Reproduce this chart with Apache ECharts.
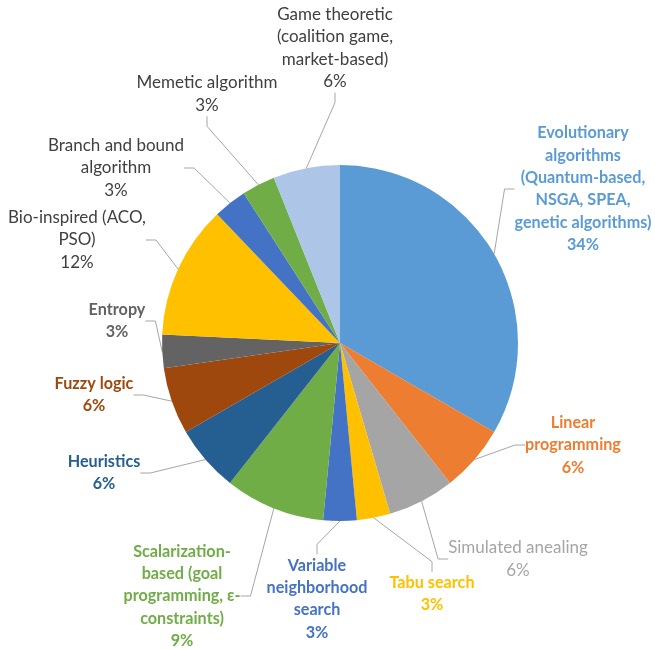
<!DOCTYPE html>
<html><head><meta charset="utf-8">
<script src="https://cdn.jsdelivr.net/npm/echarts@6/dist/echarts.min.js"></script>
<style>html,body{margin:0;padding:0;background:#fff}#c{width:655px;height:649px}</style>
</head><body><div id="c"></div>
<script>
// Categories (clockwise from 12 o'clock), with the line breaks used in the labels
const categories = [
  "Evolutionary\nalgorithms\n(Quantum-based,\nNSGA, SPEA,\ngenetic algorithms)",
  "Linear\nprogramming",
  "Simulated anealing",
  "Tabu search",
  "Variable\nneighborhood\nsearch",
  "Scalarization-\nbased (goal\nprogramming, ε-\nconstraints)",
  "Heuristics",
  "Fuzzy logic",
  "Entropy",
  "Bio-inspired (ACO,\nPSO)",
  "Branch and bound\nalgorithm",
  "Memetic algorithm",
  "Game theoretic\n(coalition game,\nmarket-based)"
];
// Number of works per category (percentages shown are derived from these)
const counts = [11, 2, 2, 1, 1, 3, 2, 2, 1, 4, 1, 1, 2];

const sliceColors = ["#5B9BD5","#ED7D31","#A5A5A5","#FFC000","#4472C4","#70AD47","#255E91","#9E480E","#636363","#FFC000","#4472C4","#70AD47","#ADC5E7"];
const labelColors = ["#5B9BD5","#ED7D31","#A5A5A5","#FFC000","#4472C4","#70AD47","#255E91","#9E480E","#636363","#404040","#404040","#404040","#404040"];
const labelBold   = [true,true,false,true,true,true,true,true,true,false,false,false,false];
// label block centres (px)
const labelCenters = [[583,189],[573,445],[518,559],[432,594],[317,599],[182,596],[104,473],[94,395],[117,321],[77,240],[116,168],[207,94],[335,48]];

const data = categories.map((name, i) => ({
  name: name,
  value: counts[i],
  itemStyle: { color: sliceColors[i] },
  label: {
    color: labelColors[i],
    fontWeight: labelBold[i] ? 'bold' : 'normal',
    fontSize: labelBold[i] ? 16.2 : 17
  }
}));

const chart = echarts.init(document.getElementById('c'), null, { renderer: 'canvas' });
chart.setOption({
  animation: false,
  backgroundColor: '#ffffff',
  series: [{
    type: 'pie',
    center: [340, 343],
    radius: 178,
    startAngle: 90,
    clockwise: true,
    percentPrecision: 0,
    data: data,
    itemStyle: { borderWidth: 0 },
    label: {
      show: true,
      position: 'outside',
      formatter: '{b}\n{d}%',
      fontFamily: 'Lato',
      fontSize: 17,
      lineHeight: 22.3,
      align: 'center',
      overflow: 'none',
      edgeDistance: 0,
      bleedMargin: 0
    },
    labelLine: {
      show: true,
      length: 10,
      length2: 10,
      lineStyle: { color: '#A6A6A6', width: 1 }
    },
    labelLayout: function (p) {
      const c = labelCenters[p.dataIndex];
      return { x: c[0], y: c[1], align: 'center', verticalAlign: 'middle' };
    },
    emphasis: { disabled: true }
  }]
});
</script>
</body></html>
